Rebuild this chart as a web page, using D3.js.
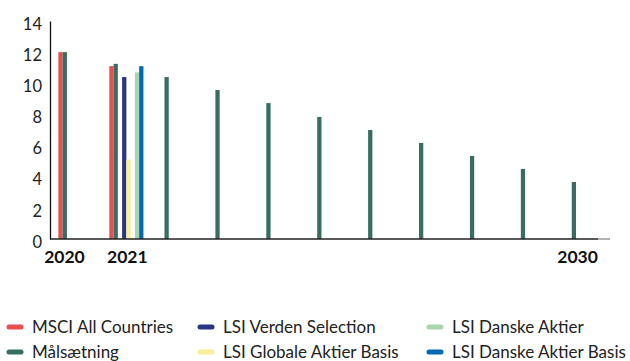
<!DOCTYPE html>
<html><head><meta charset="utf-8">
<script src="https://cdn.jsdelivr.net/npm/d3@7"></script>
<style>body{margin:0;background:#fff}svg{display:block;font-family:Lato,"Open Sans",sans-serif}</style>
</head><body><div id="chart"></div>
<script>
const years = ["2020","2021","2022","2023","2024","2025","2026","2027","2028","2029","2030"];
const yTicks = [0,2,4,6,8,10,12,14];
const yearLabels = ["2020","2021","2030"];
const msci = [12, 11.1, null,null,null,null,null,null,null,null,null];
const maal = [12, 11.25, 10.4, 9.57, 8.73, 7.84, 7.0, 6.17, 5.33, 4.5, 3.66];
const verden = [null, 10.4, null,null,null,null,null,null,null,null,null];
const globale = [null, 5.1, null,null,null,null,null,null,null,null,null];
const danske = [null, 10.7, null,null,null,null,null,null,null,null,null];
const danskeBasis = [null, 11.1, null,null,null,null,null,null,null,null,null];

const series = [
  {name:"MSCI All Countries", slot:0, color:"#E5504F", values:msci},
  {name:"Målsætning", slot:1, color:"#376E61", values:maal},
  {name:"LSI Verden Selection", slot:3, color:"#283583", values:verden},
  {name:"LSI Globale Aktier Basis", slot:4, color:"#FAEE98", values:globale},
  {name:"LSI Danske Aktier", slot:6, color:"#A9D5AF", values:danske},
  {name:"LSI Danske Aktier Basis", slot:7, color:"#0069B4", values:danskeBasis}
];

const W=630,H=361;
const svg=d3.select("#chart").append("svg").attr("width",W).attr("height",H);
const x0=d3.scaleBand().domain(years).range([50,610]).paddingInner(0.33).paddingOuter(0.165);
const x1=d3.scaleBand().domain(d3.range(8)).range([0,x0.bandwidth()]);
const y=d3.scaleLinear().domain([0,14]).range([239,21]);

// bars
series.forEach(s=>{
  svg.append("g").selectAll("rect").data(years.map((yr,i)=>({yr,v:s.values[i]})).filter(d=>d.v!=null))
    .join("rect")
    .attr("x",d=>x0(d.yr)+x1(s.slot))
    .attr("width",x1.bandwidth())
    .attr("y",d=>y(d.v))
    .attr("height",d=>y(0)-y(d.v))
    .attr("fill",s.color);
});

// y axis
const ya=svg.append("g").attr("transform","translate(50,0)")
  .call(d3.axisLeft(y).tickValues(yTicks).tickSize(0).tickPadding(8));
ya.select(".domain").attr("stroke","#111").attr("stroke-width",1.3);
ya.selectAll("text").attr("font-family","Lato, sans-serif").attr("font-size",16.5).attr("fill","#222").attr("dy","0.5em");

// x axis line
svg.append("line").attr("x1",50).attr("x2",598).attr("y1",y(0)).attr("y2",y(0)).attr("stroke","#222").attr("stroke-width",1.5);
svg.append("line").attr("x1",598).attr("x2",610).attr("y1",y(0)).attr("y2",y(0)).attr("stroke","#999").attr("stroke-width",1.5);

// year labels
const labelShift={"2020":-11,"2021":1,"2030":-7};
svg.append("g").selectAll("text").data(yearLabels).join("text")
  .attr("x",d=>x0(d)+x0.bandwidth()/2+labelShift[d])
  .attr("y",263)
  .attr("text-anchor","middle")
  .attr("font-family","Lato, sans-serif").attr("font-weight",700).attr("font-size",17.5).attr("fill","#111")
  .text(d=>d);

// legend
const legendOrder=["MSCI All Countries","LSI Verden Selection","LSI Danske Aktier","Målsætning","LSI Globale Aktier Basis","LSI Danske Aktier Basis"];
const colX=[7,198,427], rowY=[327,352];
const lg=svg.append("g").selectAll("g").data(legendOrder).join("g")
  .attr("transform",(d,i)=>`translate(${colX[i%3]},${rowY[Math.floor(i/3)]})`);
lg.append("line").attr("x1",2).attr("x2",14).attr("y1",0).attr("y2",0)
  .attr("stroke",d=>series.find(s=>s.name===d).color).attr("stroke-width",5).attr("stroke-linecap","round");
lg.append("text").attr("x",25).attr("y",0).attr("dy","0.35em")
  .attr("font-family","Lato, sans-serif").attr("font-size",17).attr("fill","#222").text(d=>d);
</script></body></html>
